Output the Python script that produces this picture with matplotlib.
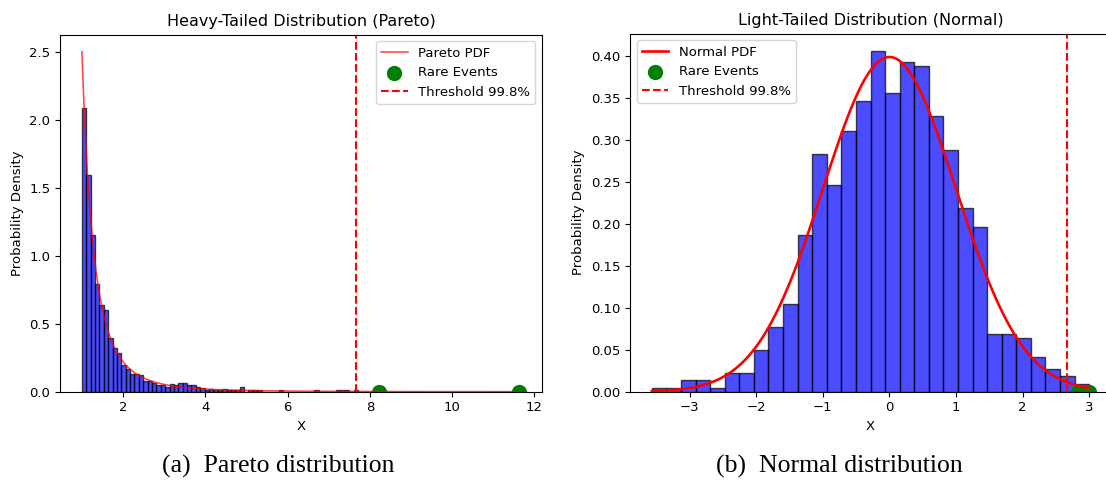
import numpy as np
import matplotlib
matplotlib.use("Agg")
import matplotlib.pyplot as plt

# ---- Pareto panel (1000 samples, 100 bins from 1.0 to 11.65) ----
PARETO_N = 1000
PARETO_RANGE = (1.0, 11.65)
pareto_counts = [
    222, 170, 123, 84, 68, 64, 42, 34, 30, 21,
    18, 14, 14, 13, 8, 8, 7, 5, 5, 4,
    6, 5, 7, 7, 5, 5, 4, 3, 1, 2,
    1, 1, 2, 1, 1, 1, 4, 0, 1, 1,
    1, 0, 0, 0, 0, 1, 0, 0, 0, 0,
    0, 0, 0, 1, 0, 0, 0, 0, 1, 1,
    1, 0, 1, 0, 0, 0, 0, 1, 0, 0,
    0, 0, 0, 0, 0, 0, 0, 0, 0, 0,
    0, 0, 0, 0, 0, 0, 0, 0, 0, 0,
    0, 0, 0, 0, 0, 0, 0, 0, 0, 1,
]
pareto_shape = 2.5
pareto_threshold = 7.67
pareto_rare = [8.22, 11.62]

# ---- Normal panel (1000 samples, 30 bins from -3.57 to 3.0) ----
NORMAL_N = 1000
NORMAL_RANGE = (-3.57, 3.0)
normal_counts = [
    1, 1, 3, 3, 1, 5, 5, 11, 17, 23,
    41, 62, 54, 68, 76, 89, 78, 86, 85, 72,
    63, 48, 43, 15, 15, 14, 9, 6, 4, 2,
]
normal_mu, normal_sigma = 0.0, 1.0
normal_threshold = 2.67
normal_rare = [2.83, 3.0]

FS = 9.5
plt.rcParams.update({
    "font.family": ["DejaVu Sans"],
    "font.size": FS,
    "axes.titlesize": 11.5,
    "axes.labelsize": FS,
    "xtick.labelsize": FS,
    "ytick.labelsize": FS,
    "legend.fontsize": FS,
})


def draw_hist(ax, counts, n, rng):
    edges = np.linspace(rng[0], rng[1], len(counts) + 1)
    width = edges[1] - edges[0]
    dens = np.asarray(counts) / (n * width)
    ax.hist(edges[:-1], bins=edges, weights=dens, color="blue",
            alpha=0.7, edgecolor="black")
    return edges


def main():
    fig = plt.figure(figsize=(11.06, 4.83), dpi=100)
    ax1 = fig.add_axes([60 / 1106, 1 - 391.7 / 483, 482 / 1106, 357 / 483])
    ax2 = fig.add_axes([630 / 1106, 1 - 391.7 / 483, 481 / 1106, 358 / 483])

    # Pareto
    edges = draw_hist(ax1, pareto_counts, PARETO_N, PARETO_RANGE)
    xs = np.linspace(edges[0], edges[-1], 500)
    ax1.plot(xs, pareto_shape / xs ** (pareto_shape + 1), color="red",
             lw=1.1, alpha=0.75, label="Pareto PDF")
    ax1.scatter(pareto_rare, np.zeros(len(pareto_rare)), color="green",
                s=100, label="Rare Events")
    ax1.axvline(pareto_threshold, color="red", ls="--", lw=1.5,
                label="Threshold 99.8%")
    ax1.set_title("Heavy-Tailed Distribution (Pareto)")
    ax1.set_xlabel("X")
    ax1.set_ylabel("Probability Density")
    ax1.legend(loc="upper right")

    # Normal
    edges = draw_hist(ax2, normal_counts, NORMAL_N, NORMAL_RANGE)
    xs = np.linspace(edges[0], edges[-1], 500)
    pdf = np.exp(-0.5 * ((xs - normal_mu) / normal_sigma) ** 2) / (normal_sigma * np.sqrt(2 * np.pi))
    ax2.plot(xs, pdf, color="red", lw=1.9, label="Normal PDF")
    ax2.scatter(normal_rare, np.zeros(len(normal_rare)), color="green",
                s=100, label="Rare Events")
    ax2.axvline(normal_threshold, color="red", ls="--", lw=1.5,
                label="Threshold 99.8%")
    ax2.set_title("Light-Tailed Distribution (Normal)")
    ax2.set_xlabel("X")
    ax2.set_ylabel("Probability Density")
    ax2.legend(loc="upper left")

    cap = dict(family=["Liberation Serif", "DejaVu Serif"], fontsize=18.5,
               ha="center", va="center")
    fig.text(278 / 1106, 1 - 466 / 483, "(a)  Pareto distribution", **cap)
    fig.text(839 / 1106, 1 - 466 / 483, "(b)  Normal distribution", **cap)

    fig.savefig("out.png", dpi=100)


if __name__ == "__main__":
    main()
